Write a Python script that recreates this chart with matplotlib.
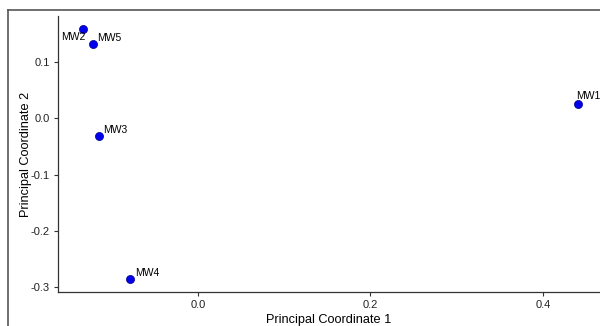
import matplotlib
matplotlib.use("Agg")
import matplotlib.pyplot as plt
from matplotlib.lines import Line2D

labels = ["MW1", "MW2", "MW3", "MW4", "MW5"]
pc1 = [0.440, -0.133, -0.114, -0.078, -0.121]
pc2 = [0.025, 0.159, -0.032, -0.286, 0.132]
xticks = [0.0, 0.2, 0.4]
yticks = [-0.3, -0.2, -0.1, 0.0, 0.1]

plt.rcParams['font.family'] = ['Liberation Sans', 'DejaVu Sans']

fig = plt.figure(figsize=(6.0, 3.26), dpi=100)
ax = fig.add_axes([58/600, 1-292/326, 1-58/600, (292-16)/326])

ax.scatter(pc1, pc2, s=34, color='#0000EE', edgecolor='#00008B', linewidth=0.5, zorder=3)

offsets = {"MW1": (-1, 2, 'left', 'bottom'),
           "MW2": (2, -2, 'right', 'top'),
           "MW3": (3, 1, 'left', 'bottom'),
           "MW4": (3, 1, 'left', 'bottom'),
           "MW5": (3, 1, 'left', 'bottom')}
for lab, x, y in zip(labels, pc1, pc2):
    dx, dy, ha, va = offsets[lab]
    ax.annotate(lab, (x, y), xytext=(dx, dy), textcoords='offset points',
                ha=ha, va=va, fontsize=7.5, color='black', annotation_clip=False)

ax.set_xlim(-0.162, 0.466)
ax.set_ylim(-0.309, 0.182)
ax.set_xticks(xticks)
ax.set_yticks(yticks)
ax.set_xticklabels([f"{v:.1f}" for v in xticks])
ax.set_yticklabels([f"{v:.1f}" for v in yticks])
for s in ['top', 'right']:
    ax.spines[s].set_visible(False)
for s in ['left', 'bottom']:
    ax.spines[s].set_color('#333333')
    ax.spines[s].set_linewidth(0.9)
ax.tick_params(axis='both', length=3, width=0.8, color='#333333', labelsize=8, labelcolor='#222222', pad=3)
ax.set_xlabel("Principal Coordinate 1", fontsize=9.2, labelpad=3)
ax.set_ylabel("Principal Coordinate 2", fontsize=9.2, labelpad=-1)

# outer panel border
fig.add_artist(Line2D([8/600, 8/600], [0, 1-9.5/326], transform=fig.transFigure, color='#555555', linewidth=1.2))
fig.add_artist(Line2D([8/600, 1], [1-9.5/326, 1-9.5/326], transform=fig.transFigure, color='#555555', linewidth=1.2))

fig.savefig("out.png", dpi=100)
